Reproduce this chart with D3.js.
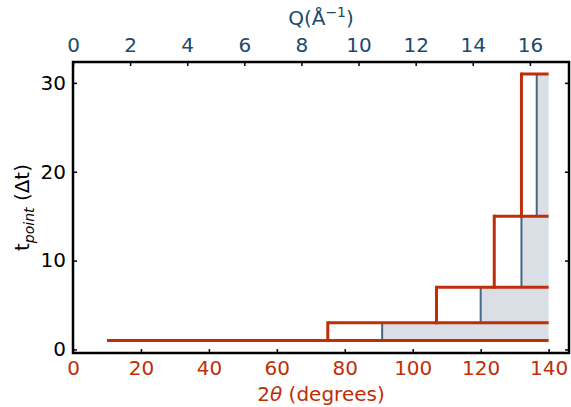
<!DOCTYPE html>
<html>
<head>
<meta charset="utf-8">
<script src="https://cdn.jsdelivr.net/npm/d3@7"></script>
<style>
  body { margin: 0; background: #fff; }
  text { font-family: "DejaVu Sans", sans-serif; }
</style>
</head>
<body>
<div id="chart"></div>
<script>
// data
var levels = [1, 3, 7, 15, 31];          // t_point steps
var redStart = [10, 75, 107, 124, 132];  // 2theta where each red step starts
var blueX = [91, 120, 132, 136.5];       // blue cut inside each band
var xEnd = 140;
var xTicks = [0, 20, 40, 60, 80, 100, 120, 140];
var qTicks = [0, 2, 4, 6, 8, 10, 12, 14, 16];
var yTicks = [0, 10, 20, 30];

var W = 571, H = 407;
var pLeft = 73, pRight = 569, pTop = 62, pBottom = 353;
var red = '#bf2e08', blue = '#436985', shade = '#d9dfe5', navy = '#1b4a6b';
var fs = 20;

var svg = d3.select('#chart').append('svg')
  .attr('width', W)
  .attr('height', H);

var x = d3.scaleLinear().domain([0, 146]).range([pLeft, pRight]);
var q = d3.scaleLinear().domain([0, 17.37]).range([pLeft, pRight]);
var y = d3.scaleLinear().domain([-0.4, 32.35]).range([pBottom, pTop]);

// shaded regions right of the blue lines
svg.selectAll('.shade')
  .data(blueX)
  .enter()
  .append('rect').classed('shade', true)
  .attr('x', function(d) { return x(d); })
  .attr('y', function(d, i) { return y(levels[i + 1]); })
  .attr('width', function(d) { return x(xEnd) - x(d); })
  .attr('height', function(d, i) { return y(levels[i]) - y(levels[i + 1]); })
  .attr('fill', shade);

// blue verticals
svg.selectAll('.blue')
  .data(blueX)
  .enter()
  .append('line').classed('blue', true)
  .attr('x1', function(d) { return x(d); })
  .attr('x2', function(d) { return x(d); })
  .attr('y1', function(d, i) { return y(levels[i]); })
  .attr('y2', function(d, i) { return y(levels[i + 1]); })
  .attr('stroke', blue)
  .attr('stroke-width', 2);

// red steps
svg.selectAll('.redh')
  .data(levels)
  .enter()
  .append('line').classed('redh', true)
  .attr('x1', function(d, i) { return x(redStart[i]); })
  .attr('x2', x(xEnd))
  .attr('y1', function(d) { return y(d); })
  .attr('y2', function(d) { return y(d); })
  .attr('stroke', red)
  .attr('stroke-width', 3);

svg.selectAll('.redv')
  .data(redStart.slice(1))
  .enter()
  .append('line').classed('redv', true)
  .attr('x1', function(d) { return x(d); })
  .attr('x2', function(d) { return x(d); })
  .attr('y1', function(d, i) { return y(levels[i]) + 1.5; })
  .attr('y2', function(d, i) { return y(levels[i + 1]) - 1.5; })
  .attr('stroke', red)
  .attr('stroke-width', 3);

// axes, ticks inward
function styleAxis(g, color) {
  g.select('.domain').remove();
  g.selectAll('.tick line').attr('stroke', '#000').attr('stroke-width', 1.5);
  g.selectAll('.tick text')
    .attr('fill', color)
    .attr('font-size', fs)
    .attr('font-family', '"DejaVu Sans", sans-serif');
}

var gb = svg.append('g').attr('transform', 'translate(0,' + pBottom + ')')
  .call(d3.axisBottom(x).tickValues(xTicks).tickSize(-4).tickPadding(8));
styleAxis(gb, red);

var gt = svg.append('g').attr('transform', 'translate(0,' + pTop + ')')
  .call(d3.axisTop(q).tickValues(qTicks).tickSize(-4).tickPadding(10));
styleAxis(gt, navy);

var gl = svg.append('g').attr('transform', 'translate(' + pLeft + ',0)')
  .call(d3.axisLeft(y).tickValues(yTicks).tickSize(-4).tickPadding(7));
styleAxis(gl, '#000');

var gr = svg.append('g').attr('transform', 'translate(' + pRight + ',0)')
  .call(d3.axisRight(y).tickValues(yTicks).tickSize(-4).tickFormat(''));
styleAxis(gr, '#000');

// frame
svg.append('rect')
  .attr('x', pLeft)
  .attr('y', pTop)
  .attr('width', pRight - pLeft)
  .attr('height', pBottom - pTop)
  .attr('fill', 'none')
  .attr('stroke', '#000')
  .attr('stroke-width', 2.5);

// axis labels
var xl = svg.append('text')
  .attr('x', (pLeft + pRight) / 2)
  .attr('y', 401)
  .attr('text-anchor', 'middle')
  .attr('font-size', fs)
  .attr('fill', red);
xl.append('tspan').text('2');
xl.append('tspan').attr('font-style', 'italic').text('θ');
xl.append('tspan').text(' (degrees)');

var ql = svg.append('text')
  .attr('x', (pLeft + pRight) / 2)
  .attr('y', 25)
  .attr('text-anchor', 'middle')
  .attr('font-size', fs)
  .attr('fill', navy);
ql.append('tspan').text('Q(Å');
ql.append('tspan').attr('font-size', 14).attr('dy', -8).text('−1');
ql.append('tspan').attr('dy', 8).text(')');

var yl = svg.append('text')
  .attr('transform', 'translate(29,' + ((pTop + pBottom) / 2) + ') rotate(-90)')
  .attr('text-anchor', 'middle')
  .attr('font-size', fs)
  .attr('fill', '#000');
yl.append('tspan').text('t');
yl.append('tspan').attr('font-size', 14).attr('font-style', 'italic').attr('dy', 5).text('point');
yl.append('tspan').attr('dy', -5).text(' (Δt)');
</script>
</body>
</html>
